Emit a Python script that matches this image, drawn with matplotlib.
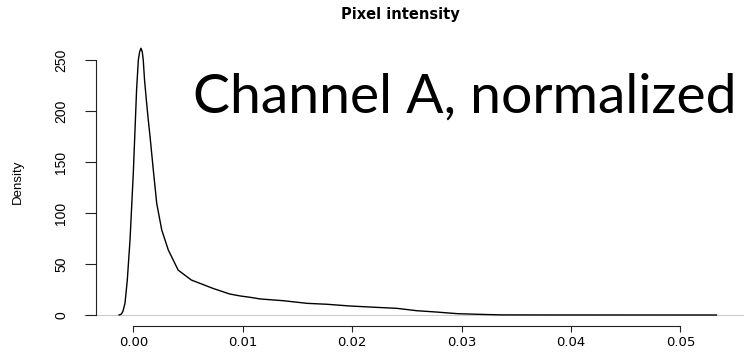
import matplotlib
matplotlib.use("Agg")
import matplotlib.pyplot as plt

# density estimate of the normalized channel A pixel values
intensity = [-0.0013, -0.0011, -0.00095, -0.00076, -0.00055, -0.0003, 0.0,
             0.0003, 0.00046, 0.00058, 0.0007, 0.00082, 0.00091, 0.00103,
             0.0012, 0.00137, 0.00153, 0.00183, 0.00214, 0.0026, 0.0032, 0.0041,
             0.0053, 0.0073, 0.0088, 0.0098, 0.0107, 0.0116, 0.0137, 0.0159,
             0.0177, 0.0198, 0.0222, 0.0241, 0.0259, 0.0277, 0.0296, 0.0314,
             0.0336, 0.0380, 0.0450, 0.0533]
density = [0, 0.8, 3.5, 11.5, 34, 73.5, 139,
           220.6, 250, 258, 261.5, 258, 250, 230,
           210, 191, 175, 142, 109.5, 83.3, 63.7, 44,
           34.3, 26, 20.6, 18.6, 17.3, 15.7, 14, 11.4,
           10.5, 8.8, 7.5, 6.5, 4.2, 2.9, 1.3, 0.7,
           0.1, 0.02, 0.01, 0]

x_ticks = [0.00, 0.01, 0.02, 0.03, 0.04, 0.05]
x_labels = ["0.00", "0.01", "0.02", "0.03", "0.04", "0.05"]
y_ticks = [0, 50, 100, 150, 200, 250]

narrow = ["Liberation Sans Narrow", "Liberation Sans"]

fig = plt.figure(figsize=(7.44, 3.55), dpi=100)
ax = fig.add_axes([84 / 744, 29 / 355, 660 / 744, 289 / 355])

ax.axhline(0, color="#cccccc", lw=0.8, zorder=1)
ax.plot(intensity, density, color="black", lw=1.0, zorder=2)

ax.set_xlim(-0.004506, 0.05582)
ax.set_ylim(-10.8, 272.5)

for side in ["top", "right"]:
    ax.spines[side].set_visible(False)
ax.spines["left"].set_position(("data", -0.00341))
ax.spines["left"].set_bounds(0, 250)
ax.spines["bottom"].set_bounds(0, 0.05)
for side in ["left", "bottom"]:
    ax.spines[side].set_color("#222222")
    ax.spines[side].set_linewidth(0.8)

ax.set_xticks(x_ticks)
ax.set_xticklabels(x_labels, fontsize=9.5, family="DejaVu Sans")
ax.set_yticks(y_ticks)
ax.set_yticklabels([str(v) for v in y_ticks], rotation=90, va="center",
                   fontsize=10, family=narrow)
ax.tick_params(axis="x", length=4.1, width=0.8, color="#222222", pad=3)
ax.tick_params(axis="y", length=7.9, width=0.8, color="#222222", pad=12)

fig.text(18 / 744, 1 - 182 / 355, "Density", rotation=90, ha="center",
         va="center", fontsize=9.5, family=narrow)
fig.text(400 / 744, 1 - 14 / 355, "Pixel intensity", ha="center",
         va="center", fontsize=10.5, fontweight="bold", family="DejaVu Sans")

# big annotation, sized so it spans the right part of the plot
label = fig.text(193 / 744, 1 - 113 / 355, "Channel A, normalized",
                 ha="left", va="baseline", fontsize=40, family="Lato")
fig.canvas.draw()
w = label.get_window_extent().width
label.set_fontsize(40 * 544 / w)

fig.savefig("out.png", dpi=100)
